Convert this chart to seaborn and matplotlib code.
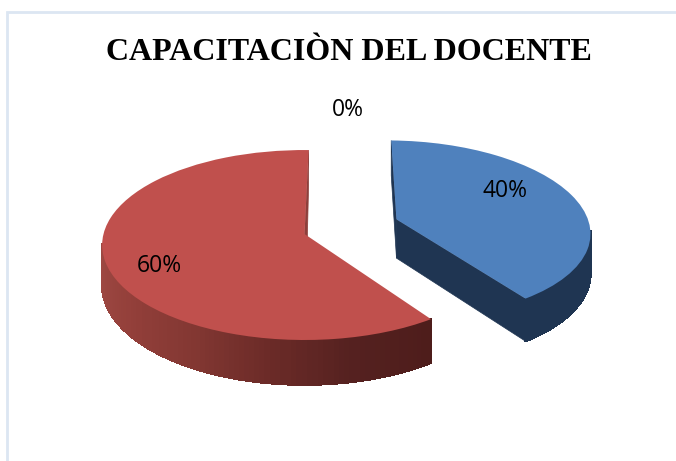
import numpy as np
import matplotlib
matplotlib.use('Agg')
import matplotlib.pyplot as plt
import seaborn as sns
from matplotlib.collections import PolyCollection
from matplotlib.patches import Polygon, Rectangle
from matplotlib.transforms import Transform

title = 'CAPACITACIÒN DEL DOCENTE'
values = [40, 60, 0]
top_colors = ['#4F81BD', '#C0504D', '#9BBB59']
explode = [0.45, 0, 0]
# label spots in picture pixels
label_xy = [(505, 191), (159, 266), (348, 110)]

# tilt of the fake 3d disc
CX, CY, RX, RY, K, DEPTH = 304.5, 234, 201, 93.7, 0.116, 39.5


def project(pts, z=0.0):
    pts = np.asarray(pts, dtype=float)
    w = 1 + K * pts[:, 1]
    return np.column_stack([CX + RX * pts[:, 0] / w, CY - RY * pts[:, 1] / w + z * DEPTH / w])


class Tilt(Transform):
    input_dims = output_dims = 2

    def transform_non_affine(self, values):
        return project(values)


def rim(wedge, t):
    a = np.radians(t)
    return np.column_stack([wedge.center[0] + wedge.r * np.cos(a), wedge.center[1] + wedge.r * np.sin(a)])


def draw_rim(ax, wedge, colors):
    t = np.linspace(wedge.theta1, wedge.theta2, len(colors) + 1)
    top = project(rim(wedge, t))
    bot = project(rim(wedge, t), 1)
    # back half is hidden behind the top face anyway
    keep = [i for i in range(len(colors)) if np.sin(np.radians(t[i])) < -0.1 and np.sin(np.radians(t[i + 1])) < -0.1]
    quads = [[top[i], top[i + 1], bot[i + 1], bot[i]] for i in keep]
    cols = [colors[i] for i in keep]
    ax.add_collection(PolyCollection(quads, facecolors=cols, edgecolors=cols, linewidths=1.0,
                                     antialiaseds=False, zorder=2))


def draw_wall(ax, wedge, t, color, spread=(0, 0)):
    corners = np.vstack([[wedge.center], rim(wedge, np.array([t]))])
    top = project(corners)
    bot = project(corners, 1)
    bot[:, 0] += spread
    ax.add_patch(Polygon([top[0], top[1], bot[1], bot[0]], closed=True, fc=color, ec=color, lw=0.5, zorder=1))


sns.set_theme(style='white')
fig, ax = plt.subplots(figsize=(6.76, 4.61), dpi=100)
ax.set_position([0, 0, 1, 1])

wedges, _ = ax.pie(values, colors=top_colors, explode=explode, startangle=88.7, counterclock=False,
                   wedgeprops={'linewidth': 0})
ax.set_aspect('auto')
ax.set_xlim(0, 676)
ax.set_ylim(461, 0)
ax.axis('off')

tilt = Tilt() + ax.transData
for w in wedges:
    w.set_transform(tilt)
    w.set_zorder(3)
    w.set_clip_on(False)

blue, red = wedges[0], wedges[1]
# the blue slice sits a bit further back than the pie explode direction
blue.set_center((blue.center[0] + 0.035, blue.center[1] + 0.03))
blue.set_radius(0.97)

# side faces
draw_wall(ax, blue, blue.theta1, '#1F3552')
draw_wall(ax, blue, blue.theta2, '#1F3552')
draw_wall(ax, red, red.theta1, '#8E3F3B', spread=(2, 0))
draw_rim(ax, blue, sns.blend_palette(['#1F3552', '#1F3552'], 60))
draw_rim(ax, red, sns.blend_palette(['#A04A44', '#A04A44', '#A04A44', '#A04A44', '#A04A44', '#9C4741',
                                     '#933F3A', '#843833', '#6C2B28', '#552120', '#4E1D1B'], 160))

# outer frame of the chart area
ax.add_patch(Rectangle((6.5, 12.5), 700, 470, fc='white', ec='#DCE6F2', lw=2, zorder=0))

ax.text(348.5, 52.5, title, ha='center', va='center', fontsize=23, fontweight='bold',
        family='Liberation Serif', color='black', zorder=5)
for v, (x, y) in zip(values, label_xy):
    ax.text(x, y, f'{v}%', ha='center', va='center', fontsize=16.5, family='Open Sans', color='black', zorder=5)

fig.savefig('out.png', dpi=100)
